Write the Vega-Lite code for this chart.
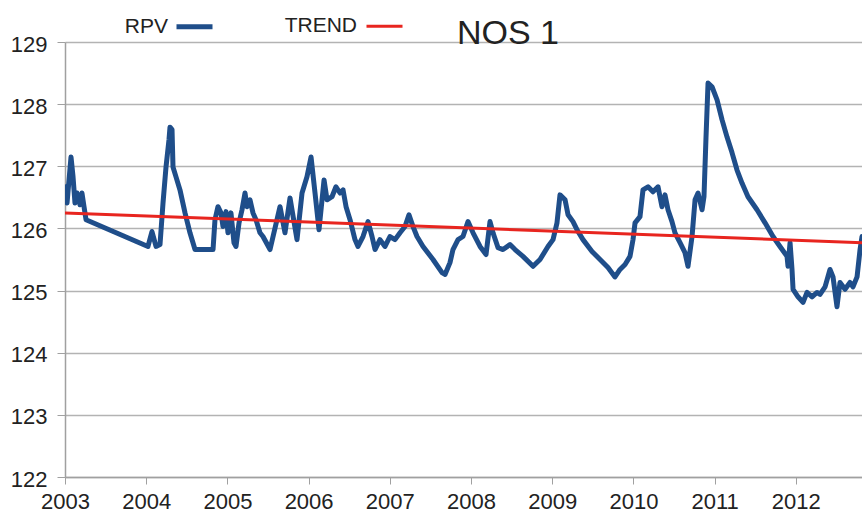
{
  "$schema": "https://vega.github.io/schema/vega-lite/v6.json",
  "width": 797,
  "height": 435,
  "autosize": {"type": "none"},
  "padding": {"left": 65, "top": 42, "right": 0, "bottom": 39},
  "background": "white",
  "config": {"view": {"stroke": null}, "font": "Liberation Sans"},
  "title": {"text": "NOS 1", "anchor": "start", "frame": "group", "dx": 392, "dy": 72, "fontSize": 34, "fontWeight": "normal", "color": "#222222", "baseline": "alphabetic", "offset": 0},
  "datasets": {
    "rows": [
      {"year": 2003.000, "value": 126.67, "series": "RPV"},
      {"year": 2003.025, "value": 126.41, "series": "RPV"},
      {"year": 2003.074, "value": 127.15, "series": "RPV"},
      {"year": 2003.099, "value": 126.83, "series": "RPV"},
      {"year": 2003.123, "value": 126.41, "series": "RPV"},
      {"year": 2003.148, "value": 126.57, "series": "RPV"},
      {"year": 2003.185, "value": 126.38, "series": "RPV"},
      {"year": 2003.209, "value": 126.57, "series": "RPV"},
      {"year": 2003.234, "value": 126.35, "series": "RPV"},
      {"year": 2003.259, "value": 126.14, "series": "RPV"},
      {"year": 2004.022, "value": 125.71, "series": "RPV"},
      {"year": 2004.071, "value": 125.95, "series": "RPV"},
      {"year": 2004.121, "value": 125.71, "series": "RPV"},
      {"year": 2004.170, "value": 125.74, "series": "RPV"},
      {"year": 2004.207, "value": 126.41, "series": "RPV"},
      {"year": 2004.244, "value": 126.99, "series": "RPV"},
      {"year": 2004.281, "value": 127.43, "series": "RPV"},
      {"year": 2004.293, "value": 127.63, "series": "RPV"},
      {"year": 2004.318, "value": 127.59, "series": "RPV"},
      {"year": 2004.330, "value": 126.99, "series": "RPV"},
      {"year": 2004.367, "value": 126.83, "series": "RPV"},
      {"year": 2004.416, "value": 126.62, "series": "RPV"},
      {"year": 2004.478, "value": 126.25, "series": "RPV"},
      {"year": 2004.539, "value": 125.93, "series": "RPV"},
      {"year": 2004.601, "value": 125.66, "series": "RPV"},
      {"year": 2004.823, "value": 125.66, "series": "RPV"},
      {"year": 2004.847, "value": 126.14, "series": "RPV"},
      {"year": 2004.884, "value": 126.35, "series": "RPV"},
      {"year": 2004.921, "value": 126.25, "series": "RPV"},
      {"year": 2004.946, "value": 126.03, "series": "RPV"},
      {"year": 2004.983, "value": 126.27, "series": "RPV"},
      {"year": 2005.007, "value": 125.93, "series": "RPV"},
      {"year": 2005.044, "value": 126.25, "series": "RPV"},
      {"year": 2005.081, "value": 125.77, "series": "RPV"},
      {"year": 2005.106, "value": 125.71, "series": "RPV"},
      {"year": 2005.143, "value": 126.09, "series": "RPV"},
      {"year": 2005.180, "value": 126.30, "series": "RPV"},
      {"year": 2005.217, "value": 126.57, "series": "RPV"},
      {"year": 2005.241, "value": 126.35, "series": "RPV"},
      {"year": 2005.278, "value": 126.46, "series": "RPV"},
      {"year": 2005.315, "value": 126.25, "series": "RPV"},
      {"year": 2005.352, "value": 126.14, "series": "RPV"},
      {"year": 2005.401, "value": 125.93, "series": "RPV"},
      {"year": 2005.438, "value": 125.87, "series": "RPV"},
      {"year": 2005.525, "value": 125.66, "series": "RPV"},
      {"year": 2005.648, "value": 126.35, "series": "RPV"},
      {"year": 2005.709, "value": 125.93, "series": "RPV"},
      {"year": 2005.771, "value": 126.49, "series": "RPV"},
      {"year": 2005.857, "value": 125.82, "series": "RPV"},
      {"year": 2005.919, "value": 126.57, "series": "RPV"},
      {"year": 2005.980, "value": 126.83, "series": "RPV"},
      {"year": 2006.030, "value": 127.15, "series": "RPV"},
      {"year": 2006.079, "value": 126.57, "series": "RPV"},
      {"year": 2006.128, "value": 125.98, "series": "RPV"},
      {"year": 2006.190, "value": 126.78, "series": "RPV"},
      {"year": 2006.227, "value": 126.46, "series": "RPV"},
      {"year": 2006.288, "value": 126.51, "series": "RPV"},
      {"year": 2006.337, "value": 126.67, "series": "RPV"},
      {"year": 2006.387, "value": 126.57, "series": "RPV"},
      {"year": 2006.424, "value": 126.62, "series": "RPV"},
      {"year": 2006.461, "value": 126.35, "series": "RPV"},
      {"year": 2006.510, "value": 126.14, "series": "RPV"},
      {"year": 2006.571, "value": 125.82, "series": "RPV"},
      {"year": 2006.608, "value": 125.71, "series": "RPV"},
      {"year": 2006.670, "value": 125.87, "series": "RPV"},
      {"year": 2006.732, "value": 126.11, "series": "RPV"},
      {"year": 2006.781, "value": 125.87, "series": "RPV"},
      {"year": 2006.818, "value": 125.66, "series": "RPV"},
      {"year": 2006.879, "value": 125.82, "series": "RPV"},
      {"year": 2006.941, "value": 125.71, "series": "RPV"},
      {"year": 2007.002, "value": 125.87, "series": "RPV"},
      {"year": 2007.064, "value": 125.82, "series": "RPV"},
      {"year": 2007.126, "value": 125.93, "series": "RPV"},
      {"year": 2007.187, "value": 126.03, "series": "RPV"},
      {"year": 2007.236, "value": 126.22, "series": "RPV"},
      {"year": 2007.286, "value": 126.03, "series": "RPV"},
      {"year": 2007.335, "value": 125.87, "series": "RPV"},
      {"year": 2007.409, "value": 125.71, "series": "RPV"},
      {"year": 2007.532, "value": 125.50, "series": "RPV"},
      {"year": 2007.643, "value": 125.29, "series": "RPV"},
      {"year": 2007.680, "value": 125.26, "series": "RPV"},
      {"year": 2007.741, "value": 125.45, "series": "RPV"},
      {"year": 2007.778, "value": 125.66, "series": "RPV"},
      {"year": 2007.840, "value": 125.82, "series": "RPV"},
      {"year": 2007.901, "value": 125.87, "series": "RPV"},
      {"year": 2007.963, "value": 126.11, "series": "RPV"},
      {"year": 2008.025, "value": 125.93, "series": "RPV"},
      {"year": 2008.111, "value": 125.71, "series": "RPV"},
      {"year": 2008.185, "value": 125.58, "series": "RPV"},
      {"year": 2008.234, "value": 126.11, "series": "RPV"},
      {"year": 2008.271, "value": 125.93, "series": "RPV"},
      {"year": 2008.333, "value": 125.69, "series": "RPV"},
      {"year": 2008.394, "value": 125.66, "series": "RPV"},
      {"year": 2008.480, "value": 125.74, "series": "RPV"},
      {"year": 2008.542, "value": 125.66, "series": "RPV"},
      {"year": 2008.640, "value": 125.55, "series": "RPV"},
      {"year": 2008.764, "value": 125.39, "series": "RPV"},
      {"year": 2008.850, "value": 125.50, "series": "RPV"},
      {"year": 2008.948, "value": 125.71, "series": "RPV"},
      {"year": 2009.010, "value": 125.82, "series": "RPV"},
      {"year": 2009.059, "value": 126.09, "series": "RPV"},
      {"year": 2009.096, "value": 126.54, "series": "RPV"},
      {"year": 2009.158, "value": 126.46, "series": "RPV"},
      {"year": 2009.195, "value": 126.22, "series": "RPV"},
      {"year": 2009.256, "value": 126.11, "series": "RPV"},
      {"year": 2009.305, "value": 125.98, "series": "RPV"},
      {"year": 2009.379, "value": 125.82, "series": "RPV"},
      {"year": 2009.490, "value": 125.63, "series": "RPV"},
      {"year": 2009.589, "value": 125.50, "series": "RPV"},
      {"year": 2009.687, "value": 125.37, "series": "RPV"},
      {"year": 2009.773, "value": 125.22, "series": "RPV"},
      {"year": 2009.835, "value": 125.34, "series": "RPV"},
      {"year": 2009.897, "value": 125.42, "series": "RPV"},
      {"year": 2009.958, "value": 125.55, "series": "RPV"},
      {"year": 2009.995, "value": 125.82, "series": "RPV"},
      {"year": 2010.020, "value": 126.09, "series": "RPV"},
      {"year": 2010.081, "value": 126.19, "series": "RPV"},
      {"year": 2010.118, "value": 126.62, "series": "RPV"},
      {"year": 2010.180, "value": 126.67, "series": "RPV"},
      {"year": 2010.241, "value": 126.59, "series": "RPV"},
      {"year": 2010.303, "value": 126.67, "series": "RPV"},
      {"year": 2010.352, "value": 126.35, "series": "RPV"},
      {"year": 2010.389, "value": 126.54, "series": "RPV"},
      {"year": 2010.426, "value": 126.30, "series": "RPV"},
      {"year": 2010.475, "value": 126.11, "series": "RPV"},
      {"year": 2010.512, "value": 125.93, "series": "RPV"},
      {"year": 2010.574, "value": 125.77, "series": "RPV"},
      {"year": 2010.635, "value": 125.61, "series": "RPV"},
      {"year": 2010.672, "value": 125.39, "series": "RPV"},
      {"year": 2010.722, "value": 125.87, "series": "RPV"},
      {"year": 2010.759, "value": 126.46, "series": "RPV"},
      {"year": 2010.796, "value": 126.57, "series": "RPV"},
      {"year": 2010.845, "value": 126.30, "series": "RPV"},
      {"year": 2010.869, "value": 126.51, "series": "RPV"},
      {"year": 2010.894, "value": 127.47, "series": "RPV"},
      {"year": 2010.919, "value": 128.34, "series": "RPV"},
      {"year": 2010.968, "value": 128.28, "series": "RPV"},
      {"year": 2011.030, "value": 128.07, "series": "RPV"},
      {"year": 2011.091, "value": 127.75, "series": "RPV"},
      {"year": 2011.153, "value": 127.47, "series": "RPV"},
      {"year": 2011.214, "value": 127.22, "series": "RPV"},
      {"year": 2011.276, "value": 126.94, "series": "RPV"},
      {"year": 2011.337, "value": 126.73, "series": "RPV"},
      {"year": 2011.411, "value": 126.51, "series": "RPV"},
      {"year": 2011.522, "value": 126.30, "series": "RPV"},
      {"year": 2011.621, "value": 126.09, "series": "RPV"},
      {"year": 2011.719, "value": 125.87, "series": "RPV"},
      {"year": 2011.805, "value": 125.71, "series": "RPV"},
      {"year": 2011.892, "value": 125.55, "series": "RPV"},
      {"year": 2011.904, "value": 125.39, "series": "RPV"},
      {"year": 2011.929, "value": 125.77, "series": "RPV"},
      {"year": 2011.953, "value": 125.34, "series": "RPV"},
      {"year": 2011.966, "value": 125.02, "series": "RPV"},
      {"year": 2012.027, "value": 124.90, "series": "RPV"},
      {"year": 2012.089, "value": 124.81, "series": "RPV"},
      {"year": 2012.138, "value": 124.97, "series": "RPV"},
      {"year": 2012.200, "value": 124.90, "series": "RPV"},
      {"year": 2012.261, "value": 124.97, "series": "RPV"},
      {"year": 2012.298, "value": 124.94, "series": "RPV"},
      {"year": 2012.360, "value": 125.06, "series": "RPV"},
      {"year": 2012.421, "value": 125.34, "series": "RPV"},
      {"year": 2012.458, "value": 125.22, "series": "RPV"},
      {"year": 2012.507, "value": 124.74, "series": "RPV"},
      {"year": 2012.544, "value": 125.13, "series": "RPV"},
      {"year": 2012.606, "value": 125.02, "series": "RPV"},
      {"year": 2012.667, "value": 125.13, "series": "RPV"},
      {"year": 2012.704, "value": 125.06, "series": "RPV"},
      {"year": 2012.754, "value": 125.22, "series": "RPV"},
      {"year": 2012.791, "value": 125.66, "series": "RPV"},
      {"year": 2012.815, "value": 125.87, "series": "RPV"},
      {"year": 2003.000, "value": 126.25, "series": "TREND"},
      {"year": 2012.815, "value": 125.77, "series": "TREND"}
    ]
  },
  "data": {"name": "rows"},
  "mark": {"type": "line", "strokeJoin": "round", "strokeCap": "round", "clip": true},
  "encoding": {
    "x": {
      "field": "year", "type": "quantitative",
      "scale": {"domain": [2003, 2012.815], "nice": false, "zero": false},
      "axis": {"values": [2003, 2004, 2005, 2006, 2007, 2008, 2009, 2010, 2011, 2012], "format": "d", "title": null, "grid": false, "tickSize": 7, "tickColor": "#a0a0a0", "domainColor": "#a0a0a0", "domainWidth": 1.5, "labelFontSize": 22, "labelColor": "#222222", "labelPadding": 7, "labelFlush": false, "labelOverlap": false}
    },
    "y": {
      "field": "value", "type": "quantitative",
      "scale": {"domain": [122, 129], "nice": false, "zero": false},
      "axis": {"values": [122, 123, 124, 125, 126, 127, 128, 129], "title": null, "grid": true, "gridColor": "#b3b3b3", "gridWidth": 1.5, "tickSize": 8, "tickColor": "#a0a0a0", "domainColor": "#a0a0a0", "domainWidth": 1.5, "labelFontSize": 22, "labelColor": "#222222", "labelPadding": 10, "labelOffset": 2}
    },
    "color": {
      "field": "series", "type": "nominal",
      "scale": {"domain": ["RPV", "TREND"], "range": ["#1f4e8a", "#e8251f"]},
      "legend": {"orient": "none", "legendX": 109, "legendY": -36, "direction": "horizontal", "title": null, "symbolType": "stroke", "symbolSize": 1296, "symbolStrokeWidth": 4, "labelFontSize": 21, "labelColor": "#222222", "labelAlign": "right", "labelOffset": -47, "columnPadding": 61, "padding": 0}
    },
    "strokeWidth": {
      "field": "series", "type": "nominal",
      "scale": {"domain": ["RPV", "TREND"], "range": [5, 3]},
      "legend": null
    }
  }
}
